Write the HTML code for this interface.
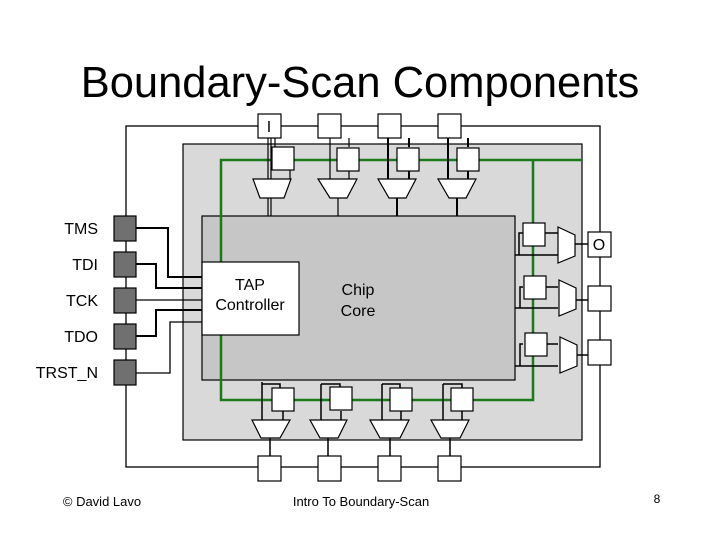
<!DOCTYPE html>
<html><head><meta charset="utf-8"><style>
body{margin:0;background:#fff}
svg{display:block}
text{font-family:"Liberation Sans",sans-serif;fill:#000}
</style></head><body>
<svg width="720" height="540" viewBox="0 0 720 540">
<text x="360" y="97" font-size="43.5" text-anchor="middle">Boundary-Scan Components</text>
<!-- outer loop -->
<rect x="126" y="126" width="474" height="341" fill="none" stroke="#000" stroke-width="1.3"/>
<!-- gray chip -->
<rect x="183" y="144" width="399" height="296" fill="#d9d9d9" stroke="#000" stroke-width="1.2"/>
<rect x="202" y="216" width="313" height="164" fill="#c6c6c6" stroke="#000" stroke-width="1.2"/>
<!-- green loop -->
<path d="M221 262 V160 H582 M533 160 V400 H221 V335" fill="none" stroke="#1a7a1a" stroke-width="2.5"/>
<rect x="202" y="262" width="97" height="73" fill="#fff" stroke="#000" stroke-width="1.2"/>
<text x="250" y="290" font-size="16" text-anchor="middle">TAP</text>
<text x="250" y="310" font-size="16" text-anchor="middle">Controller</text>
<text x="358" y="295" font-size="16" text-anchor="middle">Chip</text>
<text x="358" y="316" font-size="16" text-anchor="middle">Core</text>
<g stroke="#000" fill="#fff" stroke-width="1.2">
<!-- top -->
<path d="M268 138 V216 M271 138 V216 M275 138 V147 M290 170 V179" fill="none"/>
<path d="M330 138 V179 M338 198 V216 M349 138 V147 M349 170 V179" fill="none"/>
<path d="M388 138 V179 M397 198 V216 M409 138 V147 M409 170 V179" fill="none" stroke-width="2"/>
<path d="M448 138 V179 M457 198 V216 M468 138 V147 M468 170 V179" fill="none" stroke-width="2"/>
<rect x="258" y="114" width="23" height="24"/><rect x="318" y="114" width="23" height="24"/>
<rect x="378" y="114" width="23" height="24"/><rect x="438" y="114" width="23" height="24"/>
<rect x="272" y="147" width="22" height="23"/><rect x="337" y="148" width="22" height="23"/>
<rect x="397" y="148" width="22" height="23"/><rect x="457" y="148" width="22" height="23"/>
<path d="M253 179 H291 L284 198 H260 Z"/><path d="M318 179 H357 L347 198 H330 Z"/>
<path d="M378 179 H416 L406 198 H389 Z"/><path d="M438 179 H476 L466 198 H449 Z"/>
<!-- bottom -->
<g fill="none" stroke-width="1.5">
<path d="M262 382 V420 M262 384 H280 V388 M270 438 V456"/>
<path d="M321 384 V420 M321 384 H340 V388 M328 438 V456"/>
<path d="M382 384 V420 M382 384 H400 V388 M390 438 V456"/>
<path d="M443 384 V420 M443 384 H462 V388 M450 438 V456"/>
<path d="M283 411 V420 M341 411 V420 M401 411 V420 M462 411 V420"/>
</g>
<rect x="272" y="388" width="22" height="23"/><rect x="330" y="387" width="22" height="23"/>
<rect x="390" y="388" width="22" height="23"/><rect x="451" y="388" width="22" height="23"/>
<path d="M252 420 H290 L280 438 H261 Z"/><path d="M310 420 H347 L338 438 H320 Z"/>
<path d="M370 420 H409 L400 438 H380 Z"/><path d="M431 420 H469 L460 438 H441 Z"/>
<rect x="258" y="456" width="23" height="25"/><rect x="318" y="456" width="23" height="25"/>
<rect x="378" y="456" width="23" height="25"/><rect x="438" y="456" width="23" height="25"/>
<!-- right -->
<g fill="none" stroke-width="1.5">
<path d="M515 255 H558 M519 255 V233 H523 M545 233 H558 M575 244 H588"/>
<path d="M515 308 H558 M520 308 V287 H523 M545 287 H558 M575 300 H588"/>
<path d="M515 366 H558 M520 366 V344 H523 M545 344 H558 M575 355 H588"/>
</g>
<rect x="523" y="223" width="22" height="23"/><rect x="524" y="276" width="22" height="23"/>
<rect x="525" y="333" width="22" height="23"/>
<path d="M558 227 L575 235 V256 L558 263 Z"/><path d="M559 280 L576 288 V309 L559 316 Z"/>
<path d="M560 337 L577 345 V366 L560 373 Z"/>
<rect x="588" y="232" width="23" height="25"/><rect x="588" y="286" width="23" height="25"/>
<rect x="588" y="340" width="23" height="25"/>
<!-- left wires -->
<g fill="none" stroke-width="2">
<path d="M136 228 H168 V277 H202"/><path d="M136 264 H156 V288 H202"/>
<path d="M136 336 H156 V310 H202"/><path d="M136 373 H170 V322 V322 H202" stroke-width="1.3"/>
<path d="M136 300 H202" stroke-width="1.3"/>
</g>
<g fill="#707070">
<rect x="114" y="216" width="22" height="25"/><rect x="114" y="252" width="22" height="25"/>
<rect x="114" y="288" width="22" height="25"/><rect x="114" y="324" width="22" height="25"/>
<rect x="114" y="360" width="22" height="25"/>
</g>
</g>
<g font-size="16" text-anchor="end">
<text x="98" y="234">TMS</text><text x="98" y="270">TDI</text><text x="98" y="306">TCK</text>
<text x="98" y="342">TDO</text><text x="98" y="378">TRST_N</text>
</g>
<text x="269" y="132" font-size="16" text-anchor="middle">I</text>
<text x="599" y="250" font-size="16" text-anchor="middle">O</text>
<text x="102" y="506" font-size="13" text-anchor="middle">© David Lavo</text>
<text x="361" y="506" font-size="13" text-anchor="middle">Intro To Boundary-Scan</text>
<text x="657" y="503" font-size="12" text-anchor="middle">8</text>
</svg>
</body></html>
